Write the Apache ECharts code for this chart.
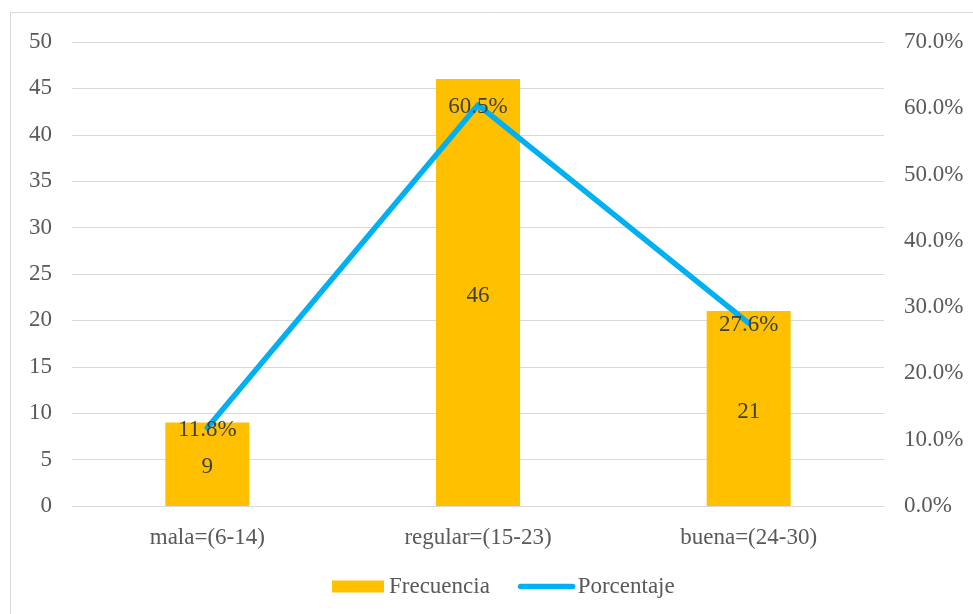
<!DOCTYPE html>
<html>
<head>
<meta charset="utf-8">
<script src="https://cdn.jsdelivr.net/npm/echarts@6/dist/echarts.min.js"></script>
<style>
html,body{margin:0;padding:0;background:#fff;}
#c{width:973px;height:614px;}
</style>
</head>
<body>
<div id="c"></div>
<script>
const categories = ['mala=(6-14)', 'regular=(15-23)', 'buena=(24-30)'];
const frecuencia = [9, 46, 21];
const porcentaje = [11.8, 60.5, 27.6];

const FONT = 'Liberation Serif';
const chart = echarts.init(document.getElementById('c'));
chart.setOption({
  animation: false,
  backgroundColor: '#fff',
  graphic: [{
    type: 'rect',
    shape: { x: 10.5, y: 12.5, width: 1100, height: 800 },
    style: { fill: 'none', stroke: '#d9d9d9', lineWidth: 1 },
    silent: true
  }],
  grid: { left: 72, right: 89, top: 42, bottom: 108 },
  legend: {
    left: 327,
    top: 570,
    itemWidth: 52,
    itemHeight: 12,
    itemGap: 28,
    textStyle: { fontFamily: FONT, fontSize: 23, color: '#595959' },
    data: [
      { name: 'Frecuencia', icon: 'rect' },
      { name: 'Porcentaje', itemStyle: { opacity: 0 }, lineStyle: { width: 5.5, cap: 'round' } }
    ]
  },
  xAxis: {
    type: 'category',
    data: categories,
    axisTick: { show: false },
    axisLine: { lineStyle: { color: '#d9d9d9', width: 1 } },
    axisLabel: { fontFamily: FONT, fontSize: 23, color: '#595959', margin: 20 }
  },
  yAxis: [
    {
      type: 'value', min: 0, max: 50, interval: 5,
      axisLine: { show: false }, axisTick: { show: false },
      splitLine: { lineStyle: { color: '#d9d9d9', width: 1 } },
      axisLabel: { fontFamily: FONT, fontSize: 23, color: '#595959', margin: 20, padding: [2, 0, 0, 0] }
    },
    {
      type: 'value', min: 0, max: 70, interval: 10,
      axisLine: { show: false }, axisTick: { show: false },
      splitLine: { show: false },
      axisLabel: {
        fontFamily: FONT, fontSize: 23, color: '#595959', margin: 20, padding: [2, 0, 0, 0],
        formatter: v => v.toFixed(1) + '%'
      }
    }
  ],
  series: [
    {
      name: 'Frecuencia',
      type: 'bar',
      data: frecuencia,
      barWidth: 84,
      itemStyle: { color: '#FFC000' },
      label: {
        show: true, position: 'inside', offset: [0, 3],
        fontFamily: FONT, fontSize: 23, color: '#404040'
      }
    },
    {
      name: 'Porcentaje',
      type: 'line',
      yAxisIndex: 1,
      data: porcentaje,
      symbol: 'circle',
      symbolSize: 0.1,
      itemStyle: { color: '#00B0F0' },
      lineStyle: { color: '#00B0F0', width: 5.5, cap: 'round', join: 'round' },
      label: {
        show: true, position: 'inside', offset: [0, 2],
        fontFamily: FONT, fontSize: 23, color: '#404040',
        formatter: p => p.value.toFixed(1) + '%'
      }
    }
  ]
});
</script>
</body>
</html>
